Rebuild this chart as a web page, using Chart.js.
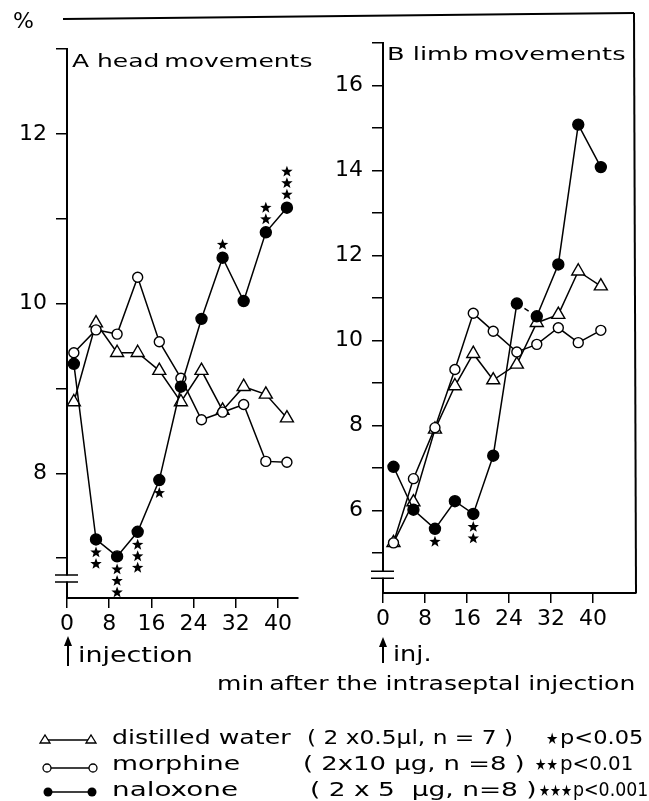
<!DOCTYPE html>
<html lang="en">
<head>
<meta charset="UTF-8" />
<title>Head and limb movements after intraseptal injection</title>
<script src="https://cdn.jsdelivr.net/npm/chart.js"></script>
<style>
  body { margin: 0; background: #fff; }
  #page { position: relative; width: 649px; height: 801px; overflow: hidden; font-family: "DejaVu Sans", sans-serif; color: #000; }
  canvas { position: absolute; left: 0; top: 0; }
  svg { position: absolute; left: 0; top: 0; }
  .t { position: absolute; white-space: pre; line-height: 1; transform-origin: 0 0; }
</style>
</head>
<body>
<div id="page">
  <canvas id="chartA" width="649" height="801"></canvas>
  <canvas id="chartB" width="649" height="801"></canvas>

  <svg width="649" height="801">
    <!-- frame -->
    <line x1="63" y1="19" x2="634" y2="13" stroke="#000" stroke-width="2"/>
    <line x1="634" y1="13" x2="636" y2="593" stroke="#000" stroke-width="2"/>
    <!-- injection arrows -->
    <line x1="68" y1="643" x2="68" y2="666" stroke="#000" stroke-width="2"/>
    <polygon points="64,646 68,636 72,646" fill="#000"/>
    <line x1="383" y1="644" x2="383" y2="663" stroke="#000" stroke-width="2"/>
    <polygon points="379,647 383,637 387,647" fill="#000"/>
    <!-- legend symbols -->
    <line x1="45" y1="740" x2="91" y2="740" stroke="#000" stroke-width="1.5"/>
    <polygon points="40,743 45,735 50,743" fill="#fff" stroke="#000" stroke-width="1.3"/>
    <polygon points="86,743 91,735 96,743" fill="#fff" stroke="#000" stroke-width="1.3"/>
    <line x1="47" y1="768" x2="93" y2="768" stroke="#000" stroke-width="1.5"/>
    <circle cx="47" cy="768" r="4" fill="#fff" stroke="#000" stroke-width="1.3"/>
    <circle cx="93" cy="768" r="4" fill="#fff" stroke="#000" stroke-width="1.3"/>
    <line x1="48" y1="792" x2="92" y2="792" stroke="#000" stroke-width="1.5"/>
    <circle cx="48" cy="792" r="4.5" fill="#000"/>
    <circle cx="92" cy="792" r="4.5" fill="#000"/>
  </svg>

  <div class="t" data-x="13" data-base="29" data-size="22" data-w="21">%</div>
  <div class="t" data-x="72" data-base="67" data-size="18" data-w="240">A head&#8201;movements</div>
  <div class="t" data-x="387" data-base="60" data-size="18" data-w="238">B limb&#8201;movements</div>
  <div class="t" data-x="78" data-base="663" data-size="22" data-w="115">injection</div>
  <div class="t" data-x="393" data-base="662" data-size="21" data-w="39">inj.</div>
  <div class="t" data-x="217" data-base="690" data-size="19" data-w="418">min&#8201;after the intraseptal injection</div>

  <div class="t" data-x="112" data-base="744" data-size="19" data-w="178">distilled water</div>
  <div class="t" data-x="307" data-base="744" data-size="19" data-w="206">( 2 x0.5µl, n = 7 )</div>
  <div class="t" data-x="546" data-base="745" data-size="16" data-w="12">★</div>
  <div class="t" data-x="560" data-base="744" data-size="19" data-w="83">p&lt;0.05</div>

  <div class="t" data-x="112" data-base="770" data-size="19" data-w="128">morphine</div>
  <div class="t" data-x="303" data-base="770" data-size="19" data-w="222">( 2x10 µg, n =8 )</div>
  <div class="t" data-x="535" data-base="771" data-size="16" data-w="23">★★</div>
  <div class="t" data-x="560" data-base="770" data-size="19" data-w="73">p&lt;0.01</div>

  <div class="t" data-x="112" data-base="796" data-size="19" data-w="126">naloxone</div>
  <div class="t" data-x="310" data-base="796" data-size="19" data-w="227">( 2 x 5  µg, n=8 )</div>
  <div class="t" data-x="539" data-base="797" data-size="16" data-w="33">★★★</div>
  <div class="t" data-x="573" data-base="796" data-size="19" data-w="75">p&lt;0.001</div>
</div>

<script>
  // min after injection
  const minutesA = [1.3, 5.5, 9.5, 13.4, 17.5, 21.6, 25.5, 29.5, 33.5, 37.7, 41.7];
  const minutesB = [2.0, 5.8, 9.9, 13.7, 17.2, 21.0, 25.5, 29.3, 33.4, 37.2, 41.5];

  // A head movements (%)
  const waterA    = [8.84, 9.77, 9.42, 9.42, 9.21, 8.84, 9.21, 8.74, 9.02, 8.93, 8.65];
  const morphineA = [9.42, 9.69, 9.64, 10.31, 9.55, 9.12, 8.63, 8.72, 8.81, 8.14, 8.13];
  const naloxoneA = [9.29, 7.22, 7.02, 7.31, 7.92, 9.02, 9.82, 10.54, 10.03, 10.84, 11.13];
  // significance stars on naloxone points (+ above, - below)
  const starsA    = [0, -2, -3, -3, -1, 0, 0, 1, 0, 2, 3];

  // B limb movements (%)
  const waterB    = [5.24, 6.20, 7.91, 8.93, 9.69, 9.07, 9.44, 10.42, 10.61, 11.63, 11.28];
  const morphineB = [5.24, 6.75, 7.95, 9.32, 10.64, 10.22, 9.73, 9.91, 10.30, 9.95, 10.24];
  const naloxoneB = [7.03, 6.02, 5.57, 6.22, 5.92, 7.29, 10.87, 10.57, 11.79, 15.08, 14.08];
  const starsB    = [0, 0, -1, 0, -2, 0, 0, 0, 0, 0, 0];

  const xTicks = [0, 8, 16, 24, 32, 40];
  const yTicksA = [7, 8, 9, 10, 11, 12, 13];
  const yLabelsA = [8, 10, 12];
  const yTicksB = [5, 6, 7, 8, 9, 10, 11, 12, 13, 14, 15, 16, 17];
  const yLabelsB = [6, 8, 10, 12, 14, 16];

  // place the html labels on their baselines and stretch to the measured width
  document.querySelectorAll('.t').forEach(el => {
    const size = +el.dataset.size;
    el.style.fontSize = size + 'px';
    el.style.left = el.dataset.x + 'px';
    el.style.top = (+el.dataset.base - 0.846 * size) + 'px';
    if (el.dataset.w) {
      el.style.transform = 'scaleX(' + (+el.dataset.w / el.offsetWidth) + ')';
    }
  });

  Chart.defaults.font.family = 'DejaVu Sans';
  Chart.defaults.font.size = 22;
  Chart.defaults.color = '#000';

  function drawStar(ctx, cx, cy, r) {
    ctx.beginPath();
    for (let i = 0; i < 10; i++) {
      const a = -Math.PI / 2 + i * Math.PI / 5;
      const rr = i % 2 ? r * 0.42 : r;
      ctx.lineTo(cx + rr * Math.cos(a), cy + rr * Math.sin(a));
    }
    ctx.closePath();
    ctx.fill();
  }

  const starPlugin = {
    id: 'stars',
    afterDatasetsDraw(chart, args, opts) {
      const { ctx, scales: { x, y } } = chart;
      ctx.save();
      ctx.fillStyle = '#000';
      opts.counts.forEach((n, i) => {
        if (!n) return;
        const px = x.getPixelForValue(opts.minutes[i]);
        const py = y.getPixelForValue(opts.values[i]);
        const dir = n > 0 ? -1 : 1;
        for (let k = 0; k < Math.abs(n); k++) {
          drawStar(ctx, px, py + dir * (13 + 11.5 * k), 6);
        }
      });
      ctx.restore();
    }
  };

  const breakPlugin = {
    id: 'axisBreak',
    afterDraw(chart, args, opts) {
      const { ctx, chartArea: { left }, scales: { y } } = chart;
      const py = y.getPixelForValue(opts.at);
      ctx.save();
      ctx.fillStyle = '#fff';
      ctx.fillRect(left - 3, py - 3, 6, 6);
      ctx.strokeStyle = '#000';
      ctx.lineWidth = 1.5;
      ctx.beginPath();
      ctx.moveTo(left - 12, py - 3.5); ctx.lineTo(left + 11, py - 3.5);
      ctx.moveTo(left - 12, py + 3.5); ctx.lineTo(left + 11, py + 3.5);
      ctx.stroke();
      ctx.restore();
    }
  };

  function series(minutes, values, style) {
    return Object.assign({
      data: minutes.map((m, i) => ({ x: m, y: values[i] })),
      showLine: true,
      borderColor: '#000',
      borderWidth: 1.5,
      pointBorderColor: '#000',
      pointBorderWidth: 1.4,
      pointHoverRadius: style.pointRadius
    }, style);
  }

  const water = { pointStyle: 'triangle', pointRadius: 7.5, pointBackgroundColor: '#fff' };
  const morphine = { pointStyle: 'circle', pointRadius: 5, pointBackgroundColor: '#fff' };
  const naloxone = { pointStyle: 'circle', pointRadius: 5.5, pointBackgroundColor: '#000' };

  function makeChart(id, o) {
    return new Chart(document.getElementById(id), {
      type: 'scatter',
      data: { datasets: o.datasets },
      plugins: [starPlugin, breakPlugin],
      options: {
        responsive: false,
        animation: false,
        events: [],
        devicePixelRatio: 1,
        layout: { padding: o.padding },
        plugins: {
          legend: { display: false },
          tooltip: { enabled: false },
          stars: o.stars,
          axisBreak: { at: o.breakAt }
        },
        scales: {
          x: {
            type: 'linear', min: 0, max: o.xMax,
            afterFit: s => { s.height = 40; },
            afterBuildTicks: s => { s.ticks = xTicks.map(v => ({ value: v })); },
            ticks: { autoSkip: false, maxRotation: 0, font: { family: 'DejaVu Sans', size: 22 }, color: '#000', padding: 3 },
            grid: { drawOnChartArea: false, drawTicks: true, tickLength: 10, color: '#000', lineWidth: 1.5 },
            border: { display: true, color: '#000', width: 2 }
          },
          y: {
            type: 'linear', min: o.yMin, max: o.yMax,
            afterFit: s => { s.width = 60; },
            afterBuildTicks: s => { s.ticks = o.yTicks.map(v => ({ value: v })); },
            ticks: {
              autoSkip: false, font: { family: 'DejaVu Sans', size: 22 }, color: '#000', padding: 9,
              callback: v => o.yLabels.includes(v) ? String(v) : ''
            },
            grid: { drawOnChartArea: false, drawTicks: true, tickLength: 11, color: '#000', lineWidth: 1.5 },
            border: { display: true, color: '#000', width: 2 }
          }
        }
      }
    });
  }

  makeChart('chartA', {
    datasets: [
      series(minutesA, naloxoneA, naloxone),
      series(minutesA, morphineA, morphine),
      series(minutesA, waterA, water)
    ],
    padding: { left: 7, top: 49, right: 351, bottom: 163 },
    xMax: 43.8, yMin: 6.53, yMax: 13,
    yTicks: yTicksA, yLabels: yLabelsA,
    stars: { minutes: minutesA, values: naloxoneA, counts: starsA },
    breakAt: 6.76
  });

  makeChart('chartB', {
    datasets: [
      Object.assign(series(minutesB, naloxoneB, naloxone), {
        segment: { borderDash: c => c.p0DataIndex === 6 ? [5, 4] : undefined }
      }),
      series(minutesB, morphineB, morphine),
      series(minutesB, waterB, water)
    ],
    padding: { left: 323, top: 43, right: 13, bottom: 168 },
    xMax: 48.2, yMin: 4.06, yMax: 17,
    yTicks: yTicksB, yLabels: yLabelsB,
    stars: { minutes: minutesB, values: naloxoneB, counts: starsB },
    breakAt: 4.49
  });
</script>
</body>
</html>
